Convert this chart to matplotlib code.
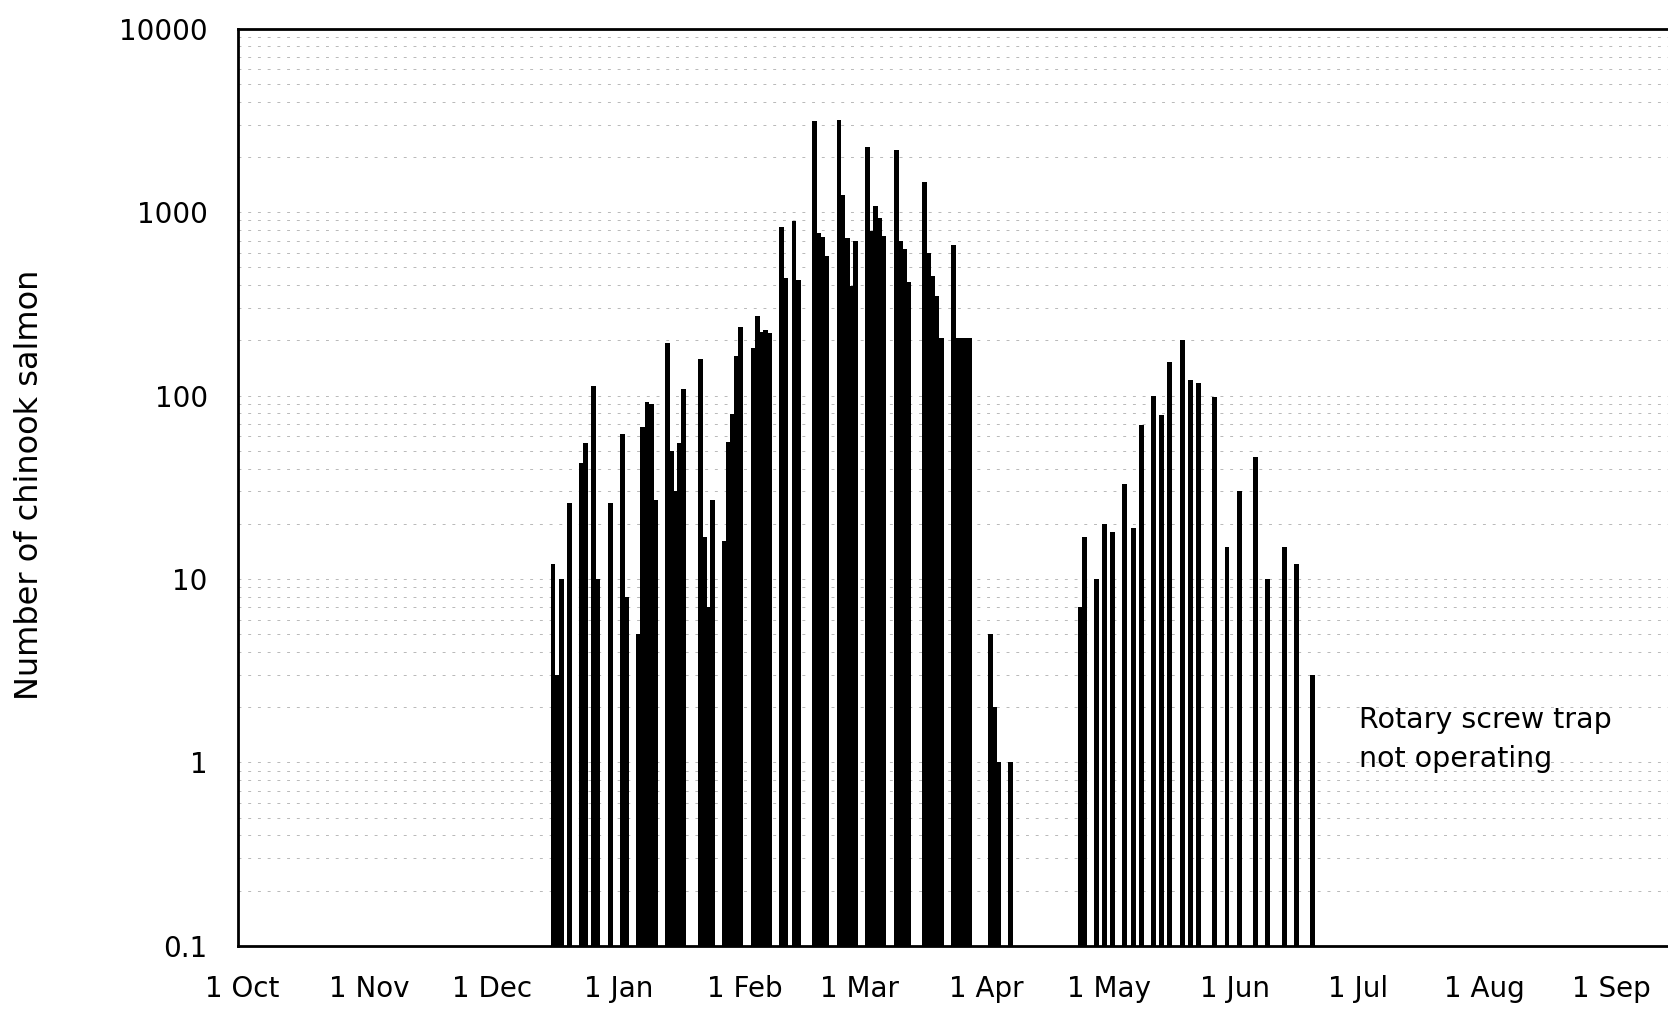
import numpy as np
import matplotlib
matplotlib.use('Agg')
import matplotlib.pyplot as plt
import matplotlib.dates as mdates
from matplotlib.ticker import FixedLocator, FuncFormatter, LogLocator, NullFormatter

# Season runs 1 Oct - 30 Sep; catches keyed by day number from 1 Oct
season_start = np.datetime64('2001-10-01')

# winter/spring run (Dec - Apr)
winter_days = [76, 77, 78, 80, 83, 84, 86, 87, 90, 93, 94, 97, 98, 99, 100, 101,
               104, 105, 106, 107, 108, 112, 113, 114, 115, 118, 119, 120, 121, 122,
               125, 126, 127, 128, 129, 132, 133, 135, 136, 140, 141, 142, 143,
               146, 147, 148, 149, 150, 153, 154, 155, 156, 157, 160, 161, 162, 163,
               167, 168, 169, 170, 171, 174, 175, 176, 177, 178, 183, 184, 185, 188]
winter_counts = [12, 3, 10, 26, 43, 55, 112, 10, 26, 62, 8, 5, 67, 92, 90, 27,
                 194, 50, 30, 55, 108, 158, 17, 7, 27, 16, 56, 79, 165, 236,
                 181, 270, 223, 228, 218, 830, 438, 892, 429, 3130, 766, 728, 577,
                 3160, 1236, 719, 394, 698, 2264, 786, 1075, 930, 744, 2168, 698, 628, 415,
                 1463, 602, 447, 347, 205, 663, 205, 205, 205, 205, 5, 2, 1, 1]

# late spring run (Apr - Jun), trap checked every few days
spring_days = [205, 206, 209, 211, 213, 216, 218, 220, 223, 225, 227, 230, 232, 234,
               238, 241, 244, 248, 251, 255, 258, 262]
spring_counts = [7, 17, 10, 20, 18, 33, 19, 69, 100, 78, 152, 202, 121, 117,
                 98, 15, 30, 46, 10, 15, 12, 3]

# first of each month, Oct through Sep
month_starts = [0, 31, 61, 92, 123, 151, 182, 212, 243, 273, 304, 335]

y_ticks = [0.1, 1, 10, 100, 1000, 10000]
y_tick_labels = ['0.1', '1', '10', '100', '1000', '10000']


def to_dates(days):
    return mdates.date2num(season_start + np.array(days, dtype='timedelta64[D]'))


def plot_catch():
    fig = plt.figure(figsize=(16.68, 10.10), dpi=100)
    # axes runs past the right edge of the page (right border cut off)
    ax = fig.add_axes([0.1429, 0.0636, 0.8964, 0.908])

    for days, counts in [(winter_days, winter_counts), (spring_days, spring_counts)]:
        ax.bar(to_dates(days), counts, width=1.2, color='black', linewidth=0)

    ax.set_yscale('log')
    ax.set_ylim(0.1, 10000)
    x0 = mdates.date2num(season_start)
    ax.set_xlim(x0 - 1.03, x0 + 365)

    ax.yaxis.set_major_locator(FixedLocator(y_ticks))
    ax.yaxis.set_major_formatter(FuncFormatter(lambda v, pos: y_tick_labels[y_ticks.index(v)] if v in y_ticks else ''))
    ax.yaxis.set_minor_locator(LogLocator(base=10, subs=np.arange(2, 10)))
    ax.yaxis.set_minor_formatter(NullFormatter())

    ax.xaxis.set_major_locator(FixedLocator(to_dates(month_starts)))
    ax.xaxis.set_major_formatter(mdates.DateFormatter('1 %b'))

    ax.tick_params(axis='both', which='both', length=0, labelsize=20)
    ax.tick_params(axis='y', pad=22)
    ax.tick_params(axis='x', pad=21)

    ax.grid(True, which='both', axis='y', color='#b8b8b8', linewidth=0.7,
            linestyle=(0, (3, 7)))
    ax.set_axisbelow(True)

    for side in ['left', 'bottom', 'top', 'right']:
        ax.spines[side].set_linewidth(2.0)

    ax.text(x0 + 273.3, 2.03, 'Rotary screw trap\nnot operating', fontsize=20.5,
            ha='left', va='top', linespacing=1.5)

    fig.text(30 / 1668, 1 - 485 / 1010, 'Number of chinook salmon', fontsize=23,
             rotation=90, ha='center', va='center')

    fig.savefig('out.png', dpi=100, facecolor='white')


if __name__ == '__main__':
    plot_catch()
